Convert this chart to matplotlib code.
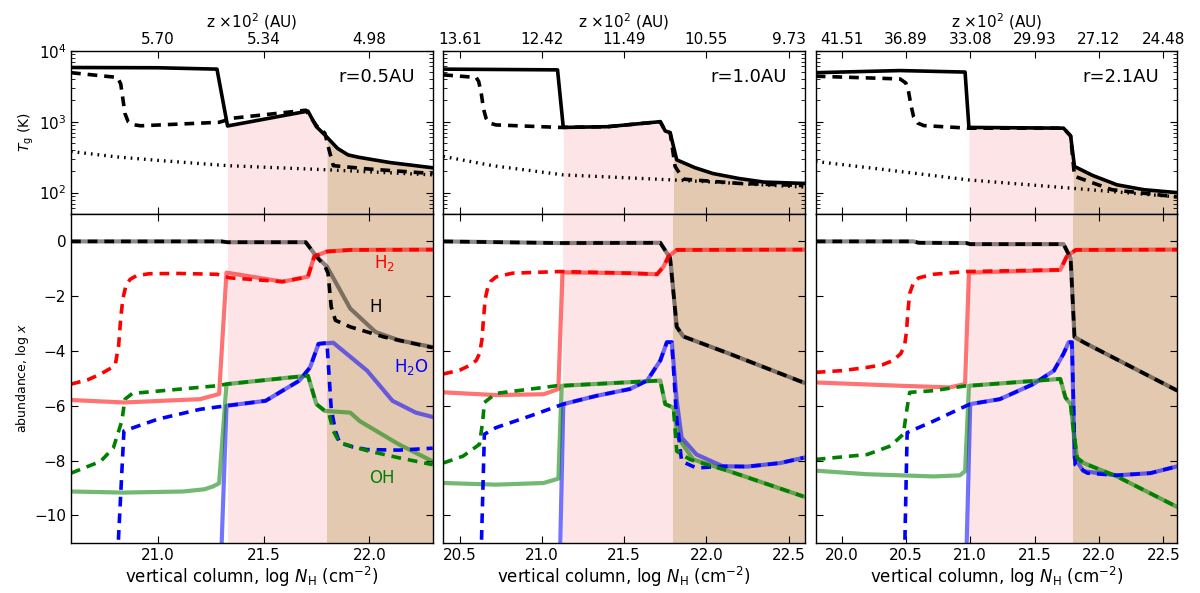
import numpy as np
import matplotlib
matplotlib.use('Agg')
import matplotlib.pyplot as plt

# ---- panel settings -------------------------------------------------------
radii = ['r=0.5AU', 'r=1.0AU', 'r=2.1AU']
xlims = [(20.59, 22.30), (20.40, 22.60), (19.80, 22.61)]
pink_start = [21.33, 21.13, 20.99]
tan_start = [21.80, 21.80, 21.80]
xticks = [[21.0, 21.5, 22.0],
          [20.5, 21.0, 21.5, 22.0, 22.5],
          [20.0, 20.5, 21.0, 21.5, 22.0, 22.5]]
z_labels = [['5.70', '5.34', '4.98'],
            ['13.61', '12.42', '11.49', '10.55', '9.73'],
            ['41.51', '36.89', '33.08', '29.93', '27.12', '24.48']]

# ---- gas / dust temperature (K) -------------------------------------------
r05_tg = [(20.59, 5800), (21.0, 5750), (21.28, 5500), (21.33, 870), (21.71, 1410),
          (21.75, 850), (21.79, 650), (21.85, 420), (21.90, 340), (21.95, 315), (22.1, 265),
          (22.30, 224)]
r05_tg2 = [(20.59, 4900), (20.81, 4200), (20.825, 3400), (20.835, 2100), (20.845, 1300),
           (20.86, 1000), (20.88, 910), (20.92, 875), (21.29, 980), (21.355, 1120),
           (21.70, 1450), (21.75, 880), (21.79, 690), (21.81, 400), (21.83, 240), (22.0, 215),
           (22.30, 186)]
r05_td = [(20.59, 380), (20.8, 320), (21.0, 285), (21.33, 240), (21.8, 210), (22.30, 178)]

r10_tg = [(20.40, 5500), (21.095, 5370), (21.13, 830), (21.40, 850), (21.72, 1000),
          (21.75, 740), (21.78, 700), (21.82, 290), (21.93, 225), (22.04, 186), (22.2, 158),
          (22.35, 141), (22.59, 135)]
r10_tg2 = [(20.40, 4570), (20.60, 4200), (20.615, 3700), (20.63, 2600), (20.645, 1500),
           (20.66, 1120), (20.68, 960), (20.72, 900), (21.11, 830), (21.40, 850), (21.72, 1000),
           (21.75, 740), (21.78, 700), (21.81, 234), (21.86, 155), (22.2, 135), (22.59, 126)]
r10_td = [(20.40, 324), (20.7, 240), (21.13, 178), (21.8, 151), (22.59, 120)]

r21_tg = [(19.80, 4900), (20.455, 5250), (20.96, 5000), (20.99, 830), (21.725, 810),
          (21.78, 630), (21.81, 234), (21.95, 175), (22.14, 129), (22.35, 110), (22.61, 100)]
r21_tg2 = [(19.80, 4370), (20.455, 4000), (20.50, 3500), (20.52, 2700), (20.54, 1700),
           (20.56, 1175), (20.59, 960), (20.64, 880), (20.99, 810), (21.725, 810), (21.78, 630),
           (21.81, 170), (22.1, 110), (22.61, 87)]
r21_td = [(19.80, 275), (20.3, 215), (20.99, 151), (21.8, 115), (22.61, 87)]

# ---- abundances, log x ------------------------------------------------------
r05_h = [(20.59, 0), (21.30, 0), (21.33, -0.03), (21.70, -0.03), (21.75, -0.55), (21.80, -0.92),
         (21.91, -2.45), (22.03, -3.31), (22.14, -3.61), (22.30, -3.86)]
r05_h_d = [(20.59, 0), (21.30, 0), (21.33, -0.03), (21.70, -0.03), (21.75, -0.55), (21.79, -0.9),
           (21.805, -1.16), (21.82, -2.39), (21.84, -2.88), (21.91, -3.12), (22.07, -3.49),
           (22.30, -3.88)]
r05_h2 = [(20.59, -5.79), (20.84, -5.88), (21.20, -5.76), (21.29, -5.57), (21.325, -1.14),
          (21.59, -1.47), (21.71, -1.29), (21.74, -0.55), (21.80, -0.37), (21.91, -0.31),
          (22.30, -0.30)]
r05_h2_d = [(20.59, -5.21), (20.67, -5.05), (20.73, -4.84), (20.78, -4.62), (20.80, -4.47),
            (20.815, -3.8), (20.825, -2.8), (20.835, -2.1), (20.85, -1.6), (20.87, -1.38),
            (20.90, -1.25), (20.96, -1.18), (21.10, -1.17), (21.28, -1.2), (21.34, -1.33),
            (21.59, -1.47), (21.71, -1.29), (21.74, -0.55), (21.80, -0.37), (21.91, -0.31),
            (22.30, -0.30)]
r05_h2o = [(21.30, -11.5), (21.325, -6.0), (21.51, -5.82), (21.67, -5.08), (21.72, -4.6),
           (21.76, -3.74), (21.83, -3.7), (21.99, -4.72), (22.11, -5.82), (22.22, -6.25),
           (22.30, -6.41)]
r05_h2o_d = [(20.81, -11.5), (20.84, -6.92), (21.0, -6.49), (21.20, -6.13), (21.325, -6.0),
             (21.51, -5.82), (21.67, -5.08), (21.72, -4.6), (21.76, -3.74), (21.80, -3.7),
             (21.82, -6.1), (21.84, -6.92), (21.86, -7.35), (21.92, -7.5), (21.99, -7.6),
             (22.14, -7.62), (22.30, -7.55)]
r05_oh = [(20.59, -9.13), (20.84, -9.17), (21.12, -9.13), (21.22, -9.05), (21.26, -8.95),
          (21.29, -8.83), (21.325, -5.21), (21.71, -4.9), (21.75, -5.94), (21.79, -6.19),
          (21.91, -6.25), (21.955, -6.56), (22.14, -7.41), (22.30, -8.03)]
r05_oh_d = [(20.59, -8.46), (20.73, -8.03), (20.79, -7.54), (20.83, -6.56), (20.845, -5.76),
            (20.88, -5.55), (21.28, -5.27), (21.325, -5.21), (21.71, -4.9), (21.75, -5.94),
            (21.81, -6.31), (21.83, -6.92), (21.86, -7.35), (21.99, -7.64), (22.14, -7.9),
            (22.30, -8.15)]

r10_h = [(20.40, 0), (21.11, -0.06), (21.72, -0.05), (21.78, -0.61), (21.82, -3.12),
         (21.86, -3.47), (22.14, -4.1), (22.59, -5.15)]
r10_h_d = r10_h
r10_h2 = [(20.40, -5.51), (20.72, -5.61), (21.01, -5.58), (21.10, -5.39), (21.125, -1.13),
          (21.535, -1.16), (21.70, -1.2), (21.74, -0.92), (21.77, -0.55), (21.82, -0.31),
          (22.59, -0.3)]
r10_h2_d = [(20.40, -4.84), (20.50, -4.7), (20.56, -4.53), (20.60, -4.35), (20.62, -4.1),
            (20.635, -3.6), (20.645, -2.8), (20.655, -2.1), (20.67, -1.7), (20.69, -1.45),
            (20.72, -1.3), (20.82, -1.16), (21.11, -1.1), (21.535, -1.16), (21.70, -1.2),
            (21.74, -0.92), (21.77, -0.55), (21.82, -0.31), (22.59, -0.3)]
r10_h2o = [(21.11, -11.5), (21.13, -5.94), (21.33, -5.64), (21.535, -5.39), (21.64, -5.08),
           (21.72, -4.35), (21.76, -3.68), (21.79, -3.68), (21.82, -5.82), (21.85, -7.17),
           (21.94, -7.78), (22.10, -8.21), (22.25, -8.22), (22.45, -8.09), (22.59, -7.9)]
r10_h2o_d = [(20.63, -11.5), (20.65, -7.04), (20.72, -6.8), (20.93, -6.37), (21.13, -5.94),
             (21.33, -5.64), (21.535, -5.39), (21.64, -5.08), (21.72, -4.35), (21.76, -3.68),
             (21.79, -3.68), (21.82, -6.5), (21.85, -8.03), (21.94, -8.27), (22.10, -8.21),
             (22.25, -8.22), (22.45, -8.09), (22.59, -7.9)]
r10_oh = [(20.40, -8.82), (20.72, -8.88), (21.01, -8.82), (21.10, -8.66), (21.12, -5.27),
          (21.72, -5.08), (21.75, -5.94), (21.80, -6.07), (21.83, -7.17), (21.92, -7.96),
          (22.14, -8.39), (22.59, -9.31)]
r10_oh_d = [(20.40, -8.09), (20.52, -7.84), (20.62, -7.41), (20.64, -6.56), (20.65, -5.88),
            (20.72, -5.55), (21.09, -5.27), (21.12, -5.27), (21.72, -5.08), (21.75, -5.94),
            (21.80, -6.07), (21.82, -7.66), (21.90, -7.96), (22.14, -8.39), (22.59, -9.31)]

r21_h = [(19.80, 0), (20.56, 0), (20.60, -0.05), (20.97, -0.06), (21.0, -0.1), (21.725, -0.1),
         (21.78, -0.61), (21.81, -3.49), (21.88, -3.68), (22.61, -5.45)]
r21_h_d = r21_h
r21_h2 = [(19.80, -5.15), (20.455, -5.27), (20.84, -5.33), (20.96, -5.21), (20.99, -1.14),
          (21.70, -1.04), (21.75, -0.55), (21.82, -0.31), (22.61, -0.3)]
r21_h2_d = [(19.80, -4.78), (20.0, -4.72), (20.20, -4.6), (20.32, -4.5), (20.40, -4.35),
            (20.46, -4.1), (20.49, -3.8), (20.505, -3.3), (20.515, -2.6), (20.53, -1.9),
            (20.56, -1.5), (20.60, -1.33), (20.715, -1.2), (20.97, -1.1), (21.70, -1.04),
            (21.75, -0.55), (21.82, -0.31), (22.61, -0.3)]
r21_h2o = [(20.97, -11.5), (21.0, -5.94), (21.23, -5.76), (21.49, -5.21), (21.65, -4.72),
           (21.725, -4.1), (21.765, -3.68), (21.79, -3.68), (21.81, -7.9), (21.88, -8.39),
           (22.14, -8.54), (22.40, -8.46), (22.61, -8.21)]
r21_h2o_d = [(20.49, -11.5), (20.51, -6.98), (20.715, -6.56), (20.97, -6.0), (21.0, -5.94),
             (21.23, -5.76), (21.49, -5.21), (21.65, -4.72), (21.725, -4.1), (21.765, -3.68),
             (21.79, -3.68), (21.815, -8.15), (21.91, -8.46), (22.14, -8.54), (22.40, -8.46),
             (22.61, -8.21)]
r21_oh = [(19.80, -8.37), (20.20, -8.5), (20.715, -8.58), (20.92, -8.54), (20.96, -8.39),
          (20.99, -5.27), (21.70, -5.02), (21.74, -5.7), (21.78, -5.94), (21.80, -6.8),
          (21.83, -7.9), (21.88, -8.09), (22.14, -8.58), (22.61, -9.7)]
r21_oh_d = [(19.80, -7.96), (20.20, -7.78), (20.38, -7.47), (20.48, -7.04), (20.51, -6.07),
            (20.53, -5.51), (20.715, -5.45), (20.97, -5.27), (20.99, -5.27), (21.70, -5.02),
            (21.74, -5.7), (21.78, -5.94), (21.80, -6.8), (21.83, -7.9), (21.88, -8.09),
            (22.14, -8.58), (22.61, -9.7)]

temps = [(r05_tg, r05_tg2, r05_td), (r10_tg, r10_tg2, r10_td), (r21_tg, r21_tg2, r21_td)]
abunds = [(r05_h, r05_h_d, r05_h2, r05_h2_d, r05_h2o, r05_h2o_d, r05_oh, r05_oh_d),
          (r10_h, r10_h_d, r10_h2, r10_h2_d, r10_h2o, r10_h2o_d, r10_oh, r10_oh_d),
          (r21_h, r21_h_d, r21_h2, r21_h2_d, r21_h2o, r21_h2o_d, r21_oh, r21_oh_d)]

PINK = '#fde4e6'
TAN = '#e2c9b0'
DASH = (0, (7, 5))
DOT = (0, (1.2, 3.6))

plt.rcParams.update({
    'font.size': 11,
    'xtick.direction': 'in', 'ytick.direction': 'in',
    'xtick.top': True, 'ytick.right': True,
    'xtick.major.size': 5, 'ytick.major.size': 5,
    'xtick.minor.size': 3, 'ytick.minor.size': 3,
    'axes.linewidth': 1.0,
    'lines.scale_dashes': False,
})


def xy(points):
    a = np.array(points, dtype=float)
    return a[:, 0], a[:, 1]


fig = plt.figure(figsize=(12, 5.93), dpi=100)
lefts = [0.0592, 0.3694, 0.6798]
width = 0.3014

for i in range(3):
    x0, x1 = xlims[i]
    ax_t = fig.add_axes([lefts[i], 0.6391, width, 0.2754])
    ax_b = fig.add_axes([lefts[i], 0.0848, width, 0.5543])

    # temperatures
    tg, tg2, td = temps[i]
    gx, gy = xy(tg)
    for a, b, c in [(pink_start[i], tan_start[i], PINK), (tan_start[i], x1, TAN)]:
        m = (gx > a) & (gx < b)
        fx = np.concatenate([[a], gx[m], [b]])
        fy = 10 ** np.interp(fx, gx, np.log10(gy))
        ax_t.fill_between(fx, 1, fy, color=c, lw=0, zorder=0)
    ax_t.plot(gx, gy, color='k', lw=2.6, zorder=3)
    ax_t.plot(*xy(tg2), color='k', lw=2.6, linestyle=DASH, zorder=3)
    ax_t.plot(*xy(td), color='k', lw=2.4, linestyle=DOT, zorder=2)
    ax_t.set_yscale('log')
    ax_t.set_ylim(50, 1e4)
    ax_t.set_xlim(x0, x1)
    ax_t.set_xticks(xticks[i])
    ax_t.set_xticklabels(z_labels[i])
    ax_t.tick_params(axis='x', labelbottom=False, labeltop=True, pad=3)
    ax_t.xaxis.set_label_position('top')
    ax_t.set_xlabel(r'z $\times10^2$ (AU)', fontsize=11, labelpad=3)
    ax_t.text(0.95, 0.84, radii[i], transform=ax_t.transAxes, ha='right', va='center',
              fontsize=13)

    # abundances
    ax_b.axvspan(pink_start[i], tan_start[i], color=PINK, lw=0, zorder=0)
    ax_b.axvspan(tan_start[i], x1 + 1, color=TAN, lw=0, zorder=0)
    h, hd, h2, h2d, w, wd, oh, ohd = abunds[i]
    ax_b.plot(*xy(h), color='k', alpha=0.45, lw=3)
    ax_b.plot(*xy(h2), color='r', alpha=0.55, lw=3)
    ax_b.plot(*xy(w), color='b', alpha=0.55, lw=3)
    ax_b.plot(*xy(oh), color='g', alpha=0.55, lw=3)
    ax_b.plot(*xy(hd), color='k', lw=2.6, linestyle=DASH)
    ax_b.plot(*xy(h2d), color='r', lw=2.6, linestyle=DASH)
    ax_b.plot(*xy(wd), color='b', lw=2.6, linestyle=DASH)
    ax_b.plot(*xy(ohd), color='g', lw=2.6, linestyle=DASH)
    ax_b.set_xlim(x0, x1)
    ax_b.set_ylim(-11, 1)
    ax_b.set_xticks(xticks[i])
    ax_b.set_yticks([-10, -8, -6, -4, -2, 0])
    ax_b.set_xlabel(r'vertical column, log $N_{\rm H}$ (cm$^{-2}$)', fontsize=12, labelpad=2)

    if i == 0:
        ax_t.set_ylabel(r'$T_{\rm g}$ (K)', fontsize=10, labelpad=2)
        ax_b.set_ylabel(r'abundance, log $x$', fontsize=9, labelpad=2)
        ax_b.text(22.07, -0.79, r'H$_2$', color='r', fontsize=12, ha='center', va='center')
        ax_b.text(22.03, -2.39, 'H', color='k', fontsize=12, ha='center', va='center')
        ax_b.text(22.20, -4.57, r'H$_2$O', color='b', fontsize=12, ha='center', va='center')
        ax_b.text(22.06, -8.64, 'OH', color='g', fontsize=12, ha='center', va='center')
    else:
        ax_t.tick_params(axis='y', which='both', labelleft=False)
        ax_b.tick_params(axis='y', labelleft=False)

fig.savefig('out.png', dpi=100, facecolor='white')
